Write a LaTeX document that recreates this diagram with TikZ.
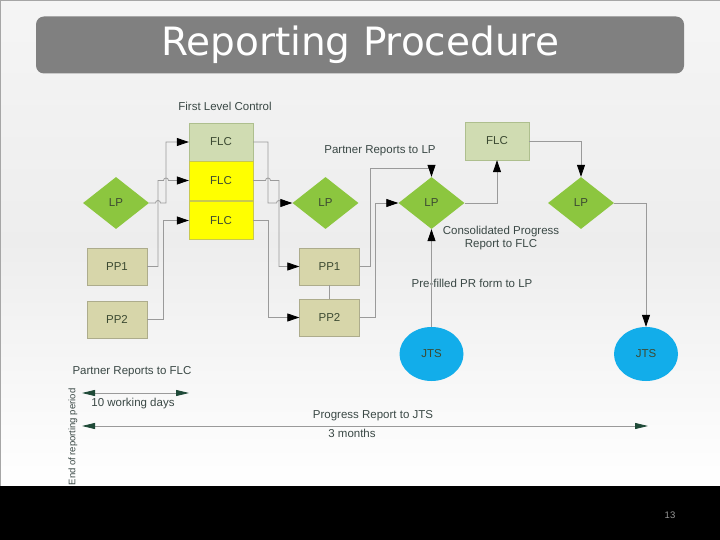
\documentclass[tikz,border=0pt]{standalone}
\usepackage{fontspec}
\setmainfont{Liberation Sans}
\newfontfamily\titlefont{DejaVu Sans}
\usetikzlibrary{shapes.geometric,arrows.meta}

\definecolor{lpGreen}{HTML}{8CC63F}
\definecolor{flcPale}{HTML}{D0DCB2}
\definecolor{flcEdge}{HTML}{AEBF8E}
\definecolor{flcYellow}{HTML}{FFFF00}
\definecolor{yellowEdge}{HTML}{C8C850}
\definecolor{ppKhaki}{HTML}{D7D6AA}
\definecolor{ppEdge}{HTML}{ADAC8C}
\definecolor{jtsBlue}{HTML}{12ADEA}
\definecolor{nodeText}{HTML}{3C4A32}
\definecolor{labelText}{HTML}{3A4845}
\definecolor{connGray}{HTML}{9A9A9A}
\definecolor{tipGreen}{HTML}{1F4A38}

\begin{document}
\begin{tikzpicture}[x=1pt,y=-1pt,
    every node/.style={font=\fontsize{11.5}{13}\selectfont},
    flcbox/.style={rectangle,draw=flcEdge,fill=flcPale,minimum width=64pt,minimum height=38pt,inner sep=0pt,text=nodeText},
    yellowbox/.style={flcbox,draw=yellowEdge,fill=flcYellow},
    ppbox/.style={rectangle,draw=ppEdge,fill=ppKhaki,minimum width=60pt,minimum height=37pt,inner sep=0pt,text=nodeText},
    lpdiamond/.style={diamond,fill=lpGreen,minimum width=66pt,minimum height=52pt,inner sep=0pt,text=nodeText},
    jtscircle/.style={ellipse,fill=jtsBlue,minimum width=64pt,minimum height=54pt,inner sep=0pt,text=nodeText},
    note/.style={text=labelText,inner sep=0pt,align=center,font=\fontsize{11.5}{13}\selectfont},
    conn/.style={draw=connGray,line width=0.8pt},
    arr/.style={conn,-{Triangle[length=12pt,width=8pt,color=black]}},
    timeline/.style={draw=connGray,line width=0.8pt,{Triangle[length=13pt,width=6pt,color=tipGreen]}-{Triangle[length=13pt,width=6pt,color=tipGreen]}}]

\useasboundingbox (0,0) rectangle (720,540);
\shade[top color=gray!8,bottom color=white,middle color=gray!14] (0,0) rectangle (720,486);
\draw[gray!70,line width=0.8pt] (0,0) rectangle (720,486);

% title
\node[rectangle,rounded corners=8pt,fill=black!50,minimum width=648pt,minimum height=57pt,text=white,font=\titlefont\fontsize{39}{41}\selectfont] (title) at (360,45) {\raisebox{-2pt}{Reporting Procedure}};

% first level control
\node[note] (flcLabel) at (225,106) {First Level Control};
\node[flcbox] (flcTop) at (221,142) {FLC};
\node[yellowbox,minimum height=39pt] (flcMid) at (221,180.5) {FLC};
\node[yellowbox] (flcLow) at (221,220.5) {FLC};

% partners
\node[lpdiamond] (lpLeft) at (116,203) {LP};
\node[ppbox] (ppOneLeft) at (117,266.5) {PP1};
\node[ppbox] (ppTwoLeft) at (117,319.5) {PP2};
\node[lpdiamond] (lpMid) at (325.5,203) {LP};
\node[ppbox] (ppOneRight) at (329.5,266.5) {PP1};
\node[ppbox] (ppTwoRight) at (329.5,317.5) {PP2};

% lead partner and jts
\node[lpdiamond] (lpCenter) at (431.5,203) {LP};
\node[flcbox] (flcRight) at (497,141) {FLC};
\node[lpdiamond] (lpRight) at (581,203) {LP};
\node[jtscircle] (jtsLeft) at (431.5,354) {JTS};
\node[jtscircle] (jtsRight) at (646,354) {JTS};

\node[note] (toLP) at (380,151) {Partner Reports to LP};
\node[note] (toFLC) at (501,238) {Consolidated Progress\\Report to FLC};
\node[note] (prForm) at (472,283) {Pre-filled PR form to LP};

% connectors
\draw[arr] (lpLeft.east) -- (155.5,203) arc (180:360:2.5) -- (166,203) |- (flcTop.west);
\draw[arr] (ppOneLeft.east) -| (158,180.5) -- (163.5,180.5) arc (180:360:2.5) -- (flcMid.west);
\draw[arr] (ppTwoLeft.east) -| (163,220.5) -- (flcLow.west);
\draw[arr] (flcTop.east) -| (268,203) -- (276.5,203) arc (180:360:2.5) -- (lpMid.west);
\draw[arr] (flcMid.east) -- (265.5,180.5) arc (180:360:2.5) -| (279,266.5) -- (ppOneRight.west);
\draw[arr] (flcLow.east) -| (268,317.5) -- (ppTwoRight.west);
\draw[conn] (ppOneRight.south) -- (ppTwoRight.north);
\draw[arr] (ppOneRight.east) -| (370,168) -| (lpCenter.north);
\draw[arr] (ppTwoRight.east) -| (375,203) -- (lpCenter.west);
\draw[arr] (lpCenter.east) -| (flcRight.south);
\draw[arr] (jtsLeft.north) -- (lpCenter.south);
\draw[arr] (flcRight.east) -| (lpRight.north);
\draw[arr] (lpRight.east) -| (jtsRight.north);

% time scale
\node[note] (flcTime) at (132,372) {Partner Reports to FLC};
\coordinate (dayStart) at (82,393);
\coordinate (dayEnd) at (189,393);
\draw[timeline] (dayStart) -- (dayEnd);
\node[note] (days) at (133,404) {10 working days};
\node[note] (jtsTime) at (373,416) {Progress Report to JTS};
\coordinate (monthStart) at (82,426);
\coordinate (monthEnd) at (648,426);
\draw[timeline] (monthStart) -- (monthEnd);
\node[note] (months) at (352,433.5) {3 months};
\node[note,rotate=90,font=\fontsize{9.5}{11}\selectfont] (period) at (73,437) {End of reporting period};

% footer
\fill[black] (0,486) rectangle (720,540);
\node[text=gray!80,font=\fontsize{9.5}{11}\selectfont] (page) at (670,515) {13};
\end{tikzpicture}
\end{document}
